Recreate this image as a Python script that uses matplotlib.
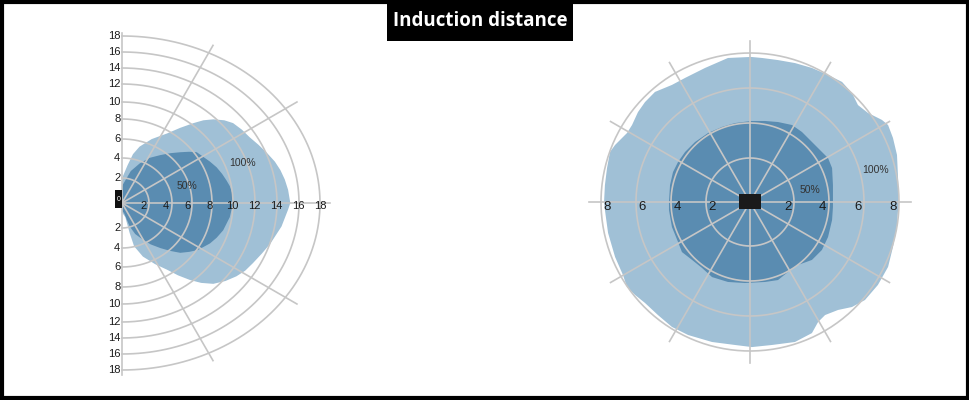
import numpy as np
import matplotlib.pyplot as plt
from matplotlib.patches import Rectangle, Polygon

plt.rcParams['font.family'] = ['Liberation Sans', 'DejaVu Sans']

# ---- data ----
# left chart (side view), distance units of the printed scale
side_ticks = [2, 4, 6, 8, 10, 12, 14, 16, 18]
side_100_x = [0.0, 0.1, 0.5, 1.0, 1.6, 2.7, 4.1, 5.3, 6.5, 7.4, 8.3, 9.3, 10.1, 10.9, 11.6, 12.4,
              13.2, 13.9, 14.4, 14.8, 15.1, 15.3,
              15.1, 14.8, 14.5, 14.0, 13.5, 12.7, 11.9, 11.2, 10.4, 9.4, 8.3, 7.2, 6.2, 5.1, 4.1,
              3.0, 1.9, 1.1, 0.7, 0.3, 0.0]
side_100_y = [2.4, 2.9, 4.0, 5.2, 6.0, 6.8, 7.4, 8.0, 8.5, 8.8, 8.9, 8.8, 8.5, 7.8, 7.0, 6.2,
              5.3, 4.4, 3.5, 2.5, 1.4, 0.0,
              -0.7, -1.6, -2.5, -3.4, -4.3, -5.4, -6.4, -7.2, -7.8, -8.3, -8.6, -8.5, -8.2, -7.7,
              -7.1, -6.5, -5.7, -4.6, -3.2, -1.5, -1.0]
side_50_x = [0.0, 0.3, 0.8, 1.6, 2.5, 3.5, 4.4, 5.3, 6.1, 6.8, 7.4, 8.0, 8.6, 9.1, 9.5, 9.8,
             10.0, 10.1, 9.8, 9.2, 8.6, 8.0, 6.9, 6.1,
             5.3, 4.4, 3.5, 2.6, 1.9, 1.2, 0.7, 0.2, 0.0]
side_50_y = [1.8, 2.4, 3.4, 4.2, 4.8, 5.1, 5.3, 5.4, 5.45, 5.4, 4.9, 4.4, 3.8, 3.1, 2.4, 1.8,
             1.1, 0.0, -1.5, -2.9, -3.7, -4.3, -5.0, -5.2,
             -5.3, -5.1, -4.8, -4.4, -3.9, -3.3, -2.5, -1.1, -0.8]

# right chart (top view)
top_ticks = [2, 4, 6, 8]
top_100_x = [0.06, -1.26, -2.57, -3.71, -4.46, -5.43, -6.0, -6.4, -6.74, -7.03, -7.71, -8.0,
             -8.17, -8.29, -8.34, -8.29, -8.11, -7.71, -7.26, -7.03, -6.57, -6.0, -5.26, -4.46,
             -3.54, -2.17, -0.86, 0.11, 1.26, 2.57, 3.54, 3.89, 4.29, 5.03, 5.83, 6.57, 7.31,
             7.89, 8.17, 8.4, 8.46, 8.51, 8.46, 8.4, 8.17, 7.89, 7.54, 6.74, 6.17, 5.83, 5.26,
             4.46, 3.54, 2.57, 1.6, 0.69]
top_100_y = [8.29, 8.23, 7.66, 7.09, 6.69, 6.29, 5.71, 5.14, 4.4, 3.94, 3.26, 2.86,
             1.94, 0.97, 0.0, -0.46, -1.77, -3.14, -4.17, -4.86, -5.31, -5.77, -6.46, -7.14,
             -7.6, -8.0, -8.17, -8.29, -8.17, -8.0, -7.49, -6.86, -6.46, -6.17, -6.0, -5.6, -4.74,
             -3.71, -2.57, -1.43, -0.46, 0.0, 1.37, 2.69, 3.66, 4.4, 4.69, 5.09, 5.54, 6.23, 6.86,
             7.26, 7.66, 7.94, 8.11, 8.23]
top_50_x = [0.06, -0.86, -1.6, -2.4, -3.14, -3.71, -4.11, -4.4, -4.57, -4.63, -4.63, -4.46,
            -4.11, -3.89, -3.31, -2.74, -2.17, -1.26, -0.29, 0.86, 1.6, 2.17, 2.74, 3.54, 4.11,
            4.46, 4.69, 4.74, 4.74, 4.69, 4.46, 4.11, 3.54, 2.97, 2.4, 1.6, 0.86]
top_50_y = [4.63, 4.51, 4.29, 3.94, 3.43, 2.86, 2.29, 1.71, 0.97, 0.0, -0.46, -1.43,
            -2.29, -2.86, -3.31, -3.77, -4.29, -4.57, -4.63, -4.57, -4.46, -4.0, -3.6, -3.31, -2.74,
            -2.0, -1.03, -0.29, 0.97, 1.94, 2.51, 2.86, 3.43, 4.0, 4.4, 4.57, 4.63]

LIGHT = '#a0c0d6'
DARK = '#5a8cb1'
GRID = '#c6c6c6'
TXT = '#1a1a1a'

W, H = 970, 400
fig = plt.figure(figsize=(W / 100, H / 100), dpi=100)


def px_axes(left, top, width, height, z=1):
    ax = fig.add_axes([left / W, 1 - (top + height) / H, width / W, height / H], zorder=z)
    ax.set_axis_off()
    return ax


# ---------- left: side view ----------
XS, YS = 11.0, 9.4  # pixels per unit
axl = px_axes(100, 203 - 19 * YS, 22 * XS, 38 * YS)
axl.set_xlim(-2, 20)
axl.set_ylim(-19, 19)

axl.add_patch(Polygon(np.column_stack([side_100_x, side_100_y]), closed=True,
                      fc=LIGHT, ec='none', zorder=1))
axl.add_patch(Polygon(np.column_stack([side_50_x, side_50_y]), closed=True,
                      fc=DARK, ec='none', zorder=2))

ring_rx = [27, 50, 70, 90, 111, 133, 155, 177, 198]
ring_ry = [25, 45, 64, 84, 101, 119, 135, 151, 167]
t = np.linspace(-np.pi / 2, np.pi / 2, 200)
for rx, ry in zip(ring_rx, ring_ry):
    axl.plot(rx / XS * np.cos(t), ry / YS * np.sin(t), color=GRID, lw=1.2, zorder=3)
for ang, length in [(30, 202), (60, 182), (-30, 202), (-60, 182)]:
    a = np.radians(ang)
    axl.plot([0, length * np.cos(a) / XS], [0, length * np.sin(a) / YS], color=GRID, lw=1.2, zorder=3)
axl.plot([0, 208 / XS], [0, 0], color=GRID, lw=1.2, zorder=3)
axl.plot([0, 0], [-172 / YS, 170 / YS], color=GRID, lw=1.2, zorder=3)

for v, ry in zip(side_ticks, ring_ry):
    axl.text(-0.15, ry / YS, str(v), ha='right', va='center', fontsize=8, color=TXT, zorder=4)
    axl.text(-0.15, -ry / YS, str(v), ha='right', va='center', fontsize=8, color=TXT, zorder=4)
    axl.text(v, -0.3, str(v), ha='center', va='center', fontsize=8, color=TXT, zorder=4)

axl.add_patch(Rectangle((-7 / XS, -5 / YS), 7 / XS, 18 / YS, fc='#111111', ec='none', zorder=5))
axl.text(-3.5 / XS, 3.5 / YS, '0', ha='center', va='center', fontsize=5, color='white', zorder=6)
axl.text(11.0, 4.3, '100%', ha='center', va='center', fontsize=7.5, color='#333333', zorder=4)
axl.text(5.9, 1.8, '50%', ha='center', va='center', fontsize=7.5, color='#333333', zorder=4)

# ---------- right: top view ----------
S = 17.5
axr = px_axes(750 - 10 * S, 202 - 10 * S, 20 * S, 20 * S)
axr.set_xlim(-10, 10)
axr.set_ylim(-10, 10)

axr.add_patch(Polygon(np.column_stack([top_100_x, top_100_y]), closed=True,
                      fc=LIGHT, ec='none', zorder=1))
axr.add_patch(Polygon(np.column_stack([top_50_x, top_50_y]), closed=True,
                      fc=DARK, ec='none', zorder=2))

t = np.linspace(0, 2 * np.pi, 400)
for r in [44, 79, 114, 149]:
    axr.plot(r / S * np.cos(t), r / S * np.sin(t), color=GRID, lw=1.2, zorder=3)
for ang in range(0, 360, 30):
    a = np.radians(ang)
    axr.plot([0, 9.2 * np.cos(a)], [0, 9.2 * np.sin(a)], color=GRID, lw=1.2, zorder=3)

for v in top_ticks:
    for sgn in (-1, 1):
        axr.text(sgn * (v + 0.15), -0.3, str(v), ha='center', va='center',
                 fontsize=9.5, color=TXT, zorder=4)

axr.add_patch(Rectangle((-11 / S, -7 / S), 22 / S, 15 / S, fc='#1a1a1a', ec='none', zorder=5))
axr.text(7.2, 1.85, '100%', ha='center', va='center', fontsize=7.5, color='#333333', zorder=4)
axr.text(3.45, 0.7, '50%', ha='center', va='center', fontsize=7.5, color='#333333', zorder=4)

# ---------- frame and title ----------
top_ax = px_axes(0, 0, W, H, z=10)
top_ax.set_xlim(0, W)
top_ax.set_ylim(H, 0)
top_ax.patch.set_alpha(0)
top_ax.add_patch(Rectangle((2, 2), W - 4, H - 4, fill=False, ec='black', lw=3, clip_on=False))
top_ax.add_patch(Rectangle((387, 0), 186, 41, fc='black', ec='none'))
top_ax.text(480, 21, 'Induction distance', ha='center', va='center', color='white',
            fontsize=13.5, fontweight='bold', family=['Open Sans', 'DejaVu Sans'])

fig.savefig('out.png', dpi=100)
